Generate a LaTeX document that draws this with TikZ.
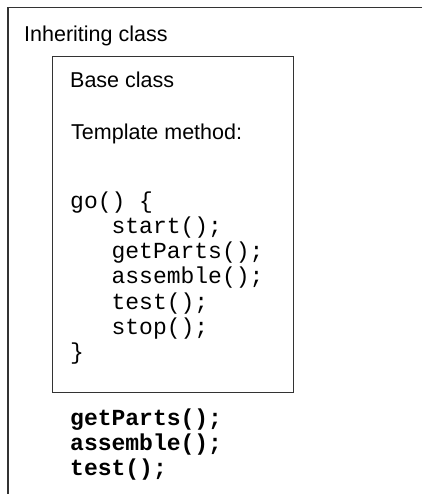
\documentclass[tikz,border=0pt]{standalone}
\usepackage{fontspec}
\setmainfont{Liberation Sans}
\setmonofont{Liberation Mono}
\usetikzlibrary{positioning}

\newcommand{\ind}{\hspace*{41.4pt}}

\begin{document}
\begin{tikzpicture}[
            x=1pt, y=-1pt,
            frame/.style={draw=black!80, line width=1.3pt},
            label/.style={
                    anchor=base west, inner sep=0pt,
                    font=\fontsize{21.5}{26}\selectfont
                },
            code/.style={
                    anchor=base west, inner sep=0pt,
                    font=\fontsize{23}{24}\selectfont\ttfamily
                },
            boldcode/.style={code, font=\fontsize{23}{24}\selectfont\ttfamily\bfseries}
        ]
        \useasboundingbox (0,0) rectangle (422,494);

        % outer frame, open at right and bottom
        \draw[frame] (422,7.5) -- (8,7.5) -- (8,494);
        \node[label] (inherit) at (24,41.5) {Inheriting class};

        % base class box
        \node[frame, anchor=north west, minimum width=241pt, minimum height=336pt, inner sep=0pt] (basebox) at (52,56) {};
        \node[label] (base) at (70,88) {Base class};
        \node[label] (tmpl) at (71,140) {Template method:};

        \foreach \ln [count=\i from 0] in {go() \{, \ind start();, \ind getParts();, \ind assemble();, \ind test();, \ind stop();, \}}
            \node[code] (c\i) at (70,{208+25.3*\i}) {\ln};

        % overridden steps
        \foreach \ln [count=\i from 0] in {getParts();, assemble();, test();}
            \node[boldcode] (b\i) at (70,{425+25*\i}) {\ln};
    \end{tikzpicture}
\end{document}
